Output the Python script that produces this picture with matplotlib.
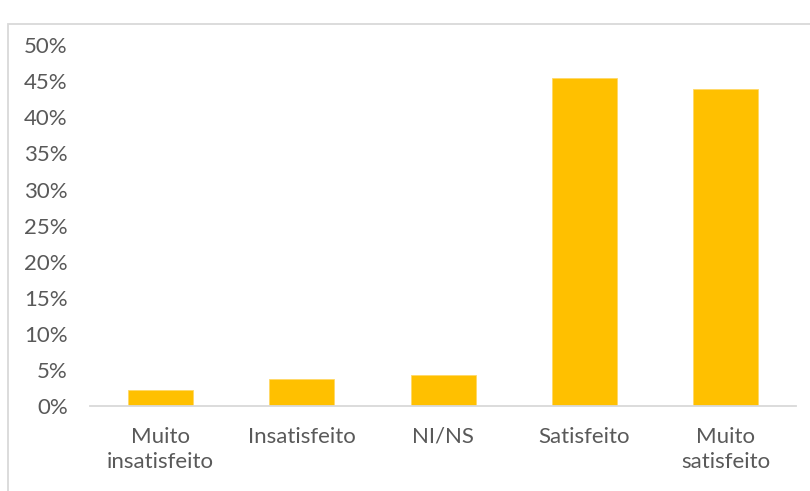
import matplotlib
matplotlib.use("Agg")
import matplotlib.pyplot as plt
import matplotlib.ticker as mticker
from matplotlib.patches import Rectangle

# survey answers and share of respondents
categories = ["Muito\ninsatisfeito", "Insatisfeito", "NI/NS", "Satisfeito",
              "Muito\nsatisfeito"]
shares = [0.022, 0.037, 0.043, 0.455, 0.439]
yticks = [0, 0.05, 0.10, 0.15, 0.20, 0.25, 0.30, 0.35, 0.40, 0.45, 0.50]

plt.rcParams.update({"font.family": ["Lato", "DejaVu Sans"],
                     "font.size": 16})
text_gray = "#595959"
line_gray = "#d9d9d9"

fig = plt.figure(figsize=(8.1, 4.91), dpi=100)
ax = fig.add_axes([0.111, 0.173, 0.872, 0.735])

ax.bar(range(len(categories)), shares, width=0.46, color="#ffc000",
       edgecolor="#ffd966", linewidth=0.6, zorder=2)

ax.set_xlim(-0.5, len(categories) - 0.5)
ax.set_ylim(0, 0.5)
ax.set_yticks(yticks)
ax.yaxis.set_major_formatter(mticker.PercentFormatter(1.0, decimals=0))
ax.set_xticks(range(len(categories)))
ax.set_xticklabels(categories, linespacing=1.3)

for side in ["top", "right", "left"]:
    ax.spines[side].set_visible(False)
ax.spines["bottom"].set_color(line_gray)
ax.spines["bottom"].set_linewidth(1.3)
ax.tick_params(axis="y", length=0, pad=16, colors=text_gray)
ax.tick_params(axis="x", length=0, pad=15, colors=text_gray)

# chart area border
fig.patches.append(Rectangle((8 / 810, -0.1), 1.2, 1 - 24 / 491 + 0.1,
                             transform=fig.transFigure, fill=False,
                             edgecolor=line_gray, linewidth=1.3))

fig.savefig("out.png", dpi=100)
